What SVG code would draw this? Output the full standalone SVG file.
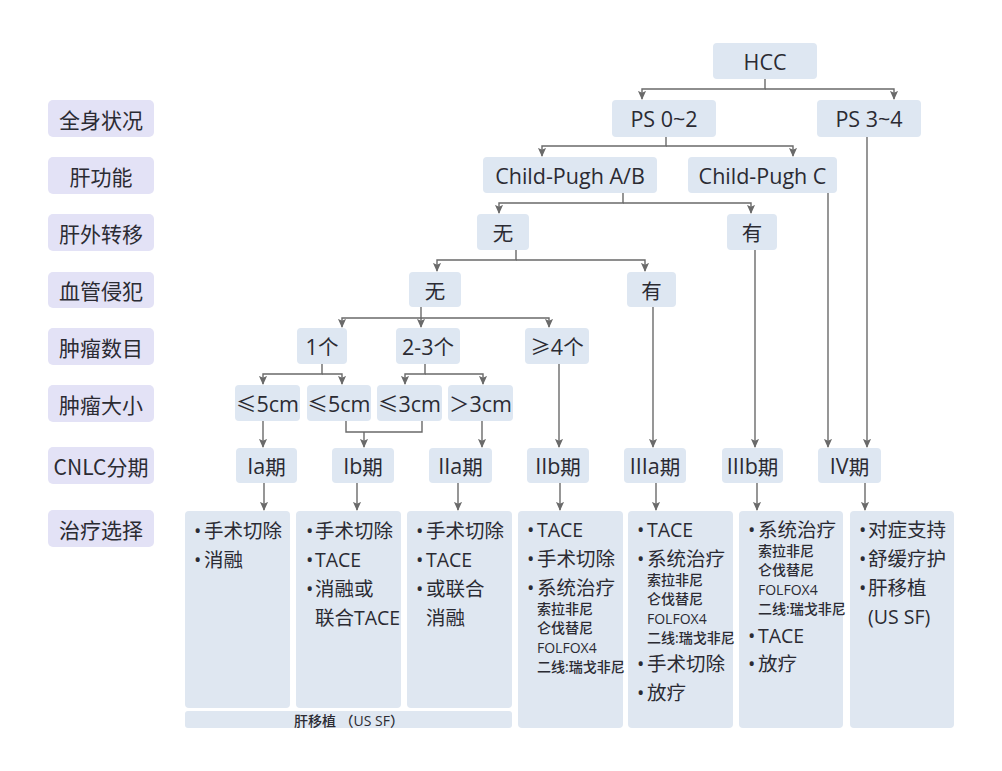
<svg xmlns="http://www.w3.org/2000/svg" width="1002" height="771" viewBox="0 0 1002 771">
<defs>
<style>
text{font-family:"Open Sans","Noto Sans CJK SC",sans-serif;fill:#2b2b33;}
.lbl rect{fill:#e3e2f6;}
.lbl text{font-size:21px;text-anchor:middle;dominant-baseline:central;font-family:"Noto Sans CJK SC",sans-serif;}
.nd rect{fill:#dee7f2;}
.nd text{font-size:21.5px;text-anchor:middle;dominant-baseline:central;}
.nd .cj{font-size:20.5px;}
.tx rect{fill:#dfe7f1;}
.tx text{font-size:19.5px;dominant-baseline:central;}
.tx text.s{font-size:14px;font-weight:500;}
.cj{font-family:"Noto Sans CJK SC",sans-serif;}
#connectors path{fill:none;stroke:#6a6a6a;stroke-width:1.4;}
</style>
<marker id="ah" viewBox="0 0 10 10" refX="9" refY="5" markerWidth="9" markerHeight="9" markerUnits="userSpaceOnUse" orient="auto">
<path d="M0,0.5 L10,5 L0,9.5 L2,5 z" fill="#6a6a6a"/>
</marker>
</defs>
<rect width="1002" height="771" fill="#ffffff"/>

<g id="labels" class="lbl">
<g id="lbl-ps"><rect x="48" y="100" width="106" height="37" rx="5"/><text x="101" y="119">全身状况</text></g>
<g id="lbl-liver"><rect x="48" y="157" width="106" height="37" rx="5"/><text x="101" y="175.5">肝功能</text></g>
<g id="lbl-meta"><rect x="48" y="214" width="106" height="37" rx="5"/><text x="101" y="232.5">肝外转移</text></g>
<g id="lbl-vasc"><rect x="48" y="272" width="106" height="36" rx="5"/><text x="101" y="290">血管侵犯</text></g>
<g id="lbl-num"><rect x="48" y="328" width="106" height="37" rx="5"/><text x="101" y="346.5">肿瘤数目</text></g>
<g id="lbl-size"><rect x="48" y="385" width="106" height="37" rx="5"/><text x="101" y="403.5">肿瘤大小</text></g>
<g id="lbl-stage"><rect x="48" y="447" width="106" height="37" rx="5"/><text x="101" y="465.5">CNLC分期</text></g>
<g id="lbl-tx"><rect x="48" y="510" width="106" height="37" rx="5"/><text x="101" y="528.5">治疗选择</text></g>
</g>

<g id="connectors">
<path d="M765,79 V89 H642 V99" marker-end="url(#ah)"/>
<path d="M765,89 H894 V99" marker-end="url(#ah)"/>
<path d="M666,137 V146 H542 V156" marker-end="url(#ah)"/>
<path d="M666,146 H793 V156" marker-end="url(#ah)"/>
<path d="M867,137 V447" marker-end="url(#ah)"/>
<path d="M623,193 V203 H499 V213" marker-end="url(#ah)"/>
<path d="M623,203 H751 V213" marker-end="url(#ah)"/>
<path d="M828,193 V447" marker-end="url(#ah)"/>
<path d="M516,250 V260 H437 V271" marker-end="url(#ah)"/>
<path d="M516,260 H645 V271" marker-end="url(#ah)"/>
<path d="M755,250 V447" marker-end="url(#ah)"/>
<path d="M421,307 V318 H342 V327" marker-end="url(#ah)"/>
<path d="M421,318 V327" marker-end="url(#ah)"/>
<path d="M421,318 H549 V327" marker-end="url(#ah)"/>
<path d="M653,307 V447" marker-end="url(#ah)"/>
<path d="M322,364 V374 H263 V384" marker-end="url(#ah)"/>
<path d="M322,374 H342 V384" marker-end="url(#ah)"/>
<path d="M425,364 V374 H405 V384" marker-end="url(#ah)"/>
<path d="M425,374 H483 V384" marker-end="url(#ah)"/>
<path d="M559,364 V447" marker-end="url(#ah)"/>
<path d="M263,421 V447" marker-end="url(#ah)"/>
<path d="M346,421 V432 H422 V421"/>
<path d="M364,432 V447" marker-end="url(#ah)"/>
<path d="M482,421 V447" marker-end="url(#ah)"/>
<path d="M264,483 V510" marker-end="url(#ah)"/>
<path d="M357,483 V510" marker-end="url(#ah)"/>
<path d="M458,483 V510" marker-end="url(#ah)"/>
<path d="M560,483 V510" marker-end="url(#ah)"/>
<path d="M656,483 V510" marker-end="url(#ah)"/>
<path d="M757,483 V510" marker-end="url(#ah)"/>
<path d="M865,483 V510" marker-end="url(#ah)"/>
</g>

<g id="nodes" class="nd">
<g id="n-hcc"><rect x="713" y="43" width="104" height="36" rx="4"/><text x="765" y="61">HCC</text></g>
<g id="n-ps02"><rect x="612" y="100" width="104" height="37" rx="4"/><text x="664" y="118.5">PS 0~2</text></g>
<g id="n-ps34"><rect x="817" y="100" width="104" height="37" rx="4"/><text x="869" y="118.5">PS 3~4</text></g>
<g id="n-cpab"><rect x="483" y="157" width="174" height="36" rx="4"/><text x="570" y="175">Child-Pugh A/B</text></g>
<g id="n-cpc"><rect x="688" y="157" width="149" height="36" rx="4"/><text x="762.5" y="175">Child-Pugh C</text></g>
<g id="n-meta-no"><rect x="477" y="214" width="52" height="36" rx="4"/><text x="503" y="232" class="cj">无</text></g>
<g id="n-meta-yes"><rect x="727" y="214" width="50" height="36" rx="4"/><text x="752" y="232" class="cj">有</text></g>
<g id="n-vasc-no"><rect x="409" y="272" width="52" height="35" rx="4"/><text x="435" y="289.5" class="cj">无</text></g>
<g id="n-vasc-yes"><rect x="627" y="272" width="49" height="35" rx="4"/><text x="651.5" y="289.5" class="cj">有</text></g>
<g id="n-num1"><rect x="297" y="328" width="50" height="36" rx="4"/><text x="322" y="346">1<tspan class="cj">个</tspan></text></g>
<g id="n-num23"><rect x="396" y="328" width="64" height="36" rx="4"/><text x="428" y="346">2-3<tspan class="cj">个</tspan></text></g>
<g id="n-num4"><rect x="525" y="328" width="64" height="36" rx="4"/><text x="557" y="346"><tspan class="cj">≥</tspan>4<tspan class="cj">个</tspan></text></g>
<g id="n-s1"><rect x="235" y="385" width="65" height="36" rx="4"/><text x="267.5" y="403"><tspan class="cj">≤</tspan>5cm</text></g>
<g id="n-s2"><rect x="307" y="385" width="64" height="36" rx="4"/><text x="339" y="403"><tspan class="cj">≤</tspan>5cm</text></g>
<g id="n-s3"><rect x="377" y="385" width="65" height="36" rx="4"/><text x="409.5" y="403"><tspan class="cj">≤</tspan>3cm</text></g>
<g id="n-s4"><rect x="448" y="385" width="65" height="36" rx="4"/><text x="480.5" y="403"><tspan class="cj">＞</tspan>3cm</text></g>
<g id="n-ia"><rect x="236" y="448" width="61" height="35" rx="4"/><text x="266.5" y="465.5">Ia<tspan class="cj">期</tspan></text></g>
<g id="n-ib"><rect x="332" y="448" width="62" height="35" rx="4"/><text x="363" y="465.5">Ib<tspan class="cj">期</tspan></text></g>
<g id="n-iia"><rect x="429" y="448" width="63" height="35" rx="4"/><text x="460.5" y="465.5">IIa<tspan class="cj">期</tspan></text></g>
<g id="n-iib"><rect x="527" y="448" width="62" height="35" rx="4"/><text x="558" y="465.5">IIb<tspan class="cj">期</tspan></text></g>
<g id="n-iiia"><rect x="624" y="448" width="62" height="35" rx="4"/><text x="655" y="465.5">IIIa<tspan class="cj">期</tspan></text></g>
<g id="n-iiib"><rect x="722" y="448" width="61" height="35" rx="4"/><text x="752.5" y="465.5">IIIb<tspan class="cj">期</tspan></text></g>
<g id="n-iv"><rect x="818" y="448" width="63" height="35" rx="4"/><text x="849.5" y="465.5">IV<tspan class="cj">期</tspan></text></g>
</g>

<g id="treatments" class="tx">
<g id="t-ia"><rect x="185" y="511" width="105" height="197" rx="4"/>
<text x="194" y="530">•</text><text x="204" y="530">手术切除</text>
<text x="194" y="559">•</text><text x="204" y="559">消融</text></g>
<g id="t-ib"><rect x="296" y="511" width="105" height="197" rx="4"/>
<text x="306" y="530">•</text><text x="315" y="530">手术切除</text>
<text x="306" y="559">•</text><text x="315" y="559">TACE</text>
<text x="306" y="588">•</text><text x="315" y="588">消融或</text>
<text x="315" y="617">联合TACE</text></g>
<g id="t-iia"><rect x="407" y="511" width="105" height="197" rx="4"/>
<text x="416" y="530">•</text><text x="426" y="530">手术切除</text>
<text x="416" y="559">•</text><text x="426" y="559">TACE</text>
<text x="416" y="588">•</text><text x="426" y="588">或联合</text>
<text x="426" y="617">消融</text></g>
<g id="t-lt"><rect x="185" y="711" width="327" height="17" rx="3"/>
<text x="349" y="720" class="s" text-anchor="middle">肝移植 （US SF）</text></g>
<g id="t-iib"><rect x="518" y="511" width="105" height="217" rx="4"/>
<text x="527" y="529">•</text><text x="537" y="529">TACE</text>
<text x="527" y="558">•</text><text x="537" y="558">手术切除</text>
<text x="527" y="587">•</text><text x="537" y="587">系统治疗</text>
<text x="537" y="608" class="s">索拉非尼</text>
<text x="537" y="627" class="s">仑伐替尼</text>
<text x="537" y="647" class="s">FOLFOX4</text>
<text x="537" y="666" class="s">二线:瑞戈非尼</text></g>
<g id="t-iiia"><rect x="628" y="511" width="105" height="217" rx="4"/>
<text x="637" y="529">•</text><text x="647" y="529">TACE</text>
<text x="637" y="558">•</text><text x="647" y="558">系统治疗</text>
<text x="647" y="579" class="s">索拉非尼</text>
<text x="647" y="598" class="s">仑伐替尼</text>
<text x="647" y="618" class="s">FOLFOX4</text>
<text x="647" y="637" class="s">二线:瑞戈非尼</text>
<text x="637" y="663">•</text><text x="647" y="663">手术切除</text>
<text x="637" y="692">•</text><text x="647" y="692">放疗</text></g>
<g id="t-iiib"><rect x="739" y="511" width="104" height="217" rx="4"/>
<text x="748" y="529">•</text><text x="758" y="529">系统治疗</text>
<text x="758" y="550" class="s">索拉非尼</text>
<text x="758" y="569" class="s">仑伐替尼</text>
<text x="758" y="589" class="s">FOLFOX4</text>
<text x="758" y="608" class="s">二线:瑞戈非尼</text>
<text x="748" y="635">•</text><text x="758" y="635">TACE</text>
<text x="748" y="663">•</text><text x="758" y="663">放疗</text></g>
<g id="t-iv"><rect x="850" y="511" width="104" height="217" rx="4"/>
<text x="859" y="529">•</text><text x="868" y="529">对症支持</text>
<text x="859" y="558">•</text><text x="868" y="558">舒缓疗护</text>
<text x="859" y="587">•</text><text x="868" y="587">肝移植</text>
<text x="868" y="616">(US SF)</text></g>
</g>
</svg>
